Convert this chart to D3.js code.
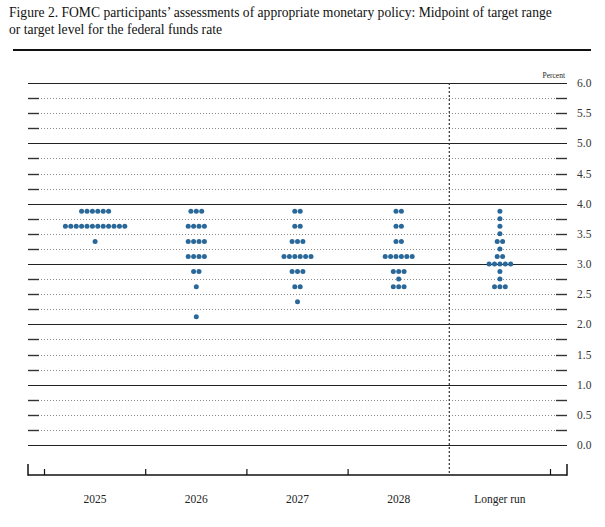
<!DOCTYPE html>
<html><head><meta charset="utf-8">
<script src="https://cdn.jsdelivr.net/npm/d3@7"></script>
<style>
html,body{margin:0;padding:0;background:#fff;}
svg{display:block;font-family:"Liberation Serif","Times New Roman",serif;}
</style></head>
<body>
<svg id="c" width="605" height="527"></svg>
<script>
const titleLines = ["Figure 2. FOMC participants\u2019 assessments of appropriate monetary policy: Midpoint of target range",
                    "or target level for the federal funds rate"];
const categories = ["2025", "2026", "2027", "2028", "Longer run"];
// [rate, number of participants]
const dots2025 = [[3.875, 6], [3.625, 12], [3.375, 1]];
const dots2026 = [[3.875, 3], [3.625, 4], [3.375, 4], [3.125, 4], [2.875, 2], [2.625, 1], [2.125, 1]];
const dots2027 = [[3.875, 2], [3.625, 2], [3.375, 3], [3.125, 6], [2.875, 3], [2.625, 2], [2.375, 1]];
const dots2028 = [[3.875, 2], [3.625, 2], [3.375, 2], [3.125, 6], [2.875, 3], [2.75, 1], [2.625, 3]];
const dotsLonger = [[3.875, 1], [3.75, 1], [3.625, 1], [3.5, 1], [3.375, 2], [3.25, 1], [3.125, 2], [3.0, 5], [2.875, 1], [2.75, 1], [2.625, 3]];
const allDots = [dots2025, dots2026, dots2027, dots2028, dotsLonger];
const yTickLabels = ["0.0","0.5","1.0","1.5","2.0","2.5","3.0","3.5","4.0","4.5","5.0","5.5","6.0"];

const svg = d3.select("#c");
const left = 28, right = 567, axisY = 475;
const y = d3.scaleLinear().domain([0, 6]).range([445, 83]);
const x = d3.scaleBand().domain(categories).range([44.5, 550.5]);

// title
svg.selectAll("text.title").data(titleLines).join("text")
  .attr("class","title").attr("x", 9).attr("y", (d,i) => 17 + i*17)
  .attr("font-size", 13.6).attr("fill", "#111").text(d => d);
svg.append("line").attr("x1", 13).attr("x2", 591).attr("y1", 50).attr("y2", 50)
  .attr("stroke", "#111").attr("stroke-width", 2);

// gridlines
const gridVals = d3.range(0, 6.0001, 0.25);
gridVals.forEach(v => {
  const yy = Math.round(y(v)) + 0.5;
  const isInt = Math.abs(v - Math.round(v)) < 1e-6;
  if (isInt) {
    svg.append("line").attr("x1", left).attr("x2", right).attr("y1", yy).attr("y2", yy)
      .attr("stroke", "#222").attr("stroke-width", 1.1);
  } else {
    svg.append("line").attr("x1", left + 10).attr("x2", right - 10).attr("y1", yy).attr("y2", yy)
      .attr("stroke", "#8a8a8a").attr("stroke-width", 1).attr("stroke-dasharray", "1,2");
    svg.append("line").attr("x1", left).attr("x2", left + 11).attr("y1", yy).attr("y2", yy)
      .attr("stroke", "#333").attr("stroke-width", 1.4);
    svg.append("line").attr("x1", right - 11).attr("x2", right).attr("y1", yy).attr("y2", yy)
      .attr("stroke", "#333").attr("stroke-width", 1.4);
  }
});

// y labels
svg.selectAll("text.ylab").data(yTickLabels).join("text")
  .attr("class","ylab").attr("x", 577).attr("y", d => y(+d) + 4)
  .attr("font-size", 11.5).attr("fill", "#333").text(d => d);
svg.append("text").attr("x", 565).attr("y", 78).attr("text-anchor", "end")
  .attr("font-size", 7.5).attr("fill", "#222").text("Percent");

// x axis
svg.append("line").attr("x1", left).attr("x2", right).attr("y1", axisY).attr("y2", axisY)
  .attr("stroke", "#111").attr("stroke-width", 1.5);
[left, right].forEach(xx => svg.append("line").attr("x1", xx).attr("x2", xx)
  .attr("y1", 464).attr("y2", axisY + 0.75).attr("stroke", "#111").attr("stroke-width", 1.5));
const boundaries = categories.map(c => x(c)).concat([x(categories[4]) + x.bandwidth()]);
boundaries.forEach((b, i) => {
  if (i === 4) {
    svg.append("line").attr("x1", b).attr("x2", b).attr("y1", 83).attr("y2", axisY)
      .attr("stroke", "#333").attr("stroke-width", 1.2).attr("stroke-dasharray", "2,2");
  } else {
    svg.append("line").attr("x1", b).attr("x2", b).attr("y1", 469).attr("y2", axisY)
      .attr("stroke", "#111").attr("stroke-width", 1.2);
  }
});
svg.selectAll("text.xlab").data(categories).join("text")
  .attr("class","xlab").attr("x", d => x(d) + x.bandwidth()/2).attr("y", 503)
  .attr("text-anchor", "middle").attr("font-size", 11.5).attr("fill", "#222").text(d => d);

// dots
const spacing = 5.4;
allDots.forEach((rows, ci) => {
  const cx = x(categories[ci]) + x.bandwidth()/2;
  rows.forEach(([v, n]) => {
    for (let i = 0; i < n; i++) {
      svg.append("circle").attr("cx", cx + (i - (n - 1)/2) * spacing).attr("cy", y(v))
        .attr("r", 2.5).attr("fill", "#2a6899");
    }
  });
});
</script>
</body></html>
